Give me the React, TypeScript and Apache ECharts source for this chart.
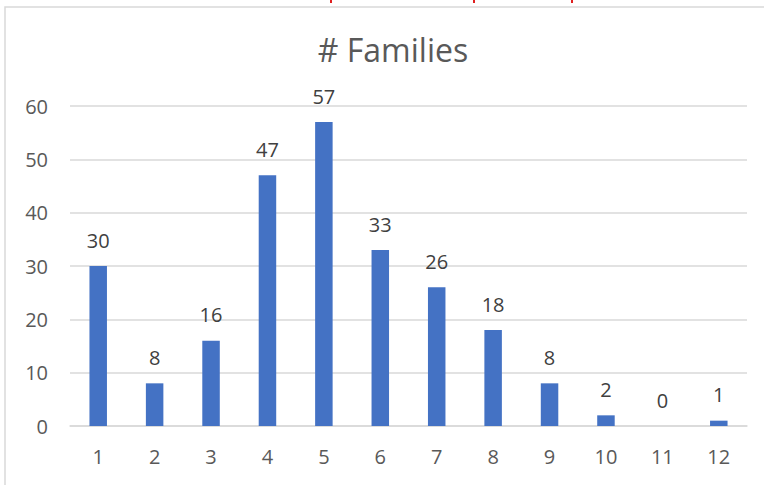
import React, { useEffect, useRef } from "react";
import * as echarts from "echarts";

const categories = ["1", "2", "3", "4", "5", "6", "7", "8", "9", "10", "11", "12"];
const families = [30, 8, 16, 47, 57, 33, 26, 18, 8, 2, 0, 1];
const yTicks = [0, 10, 20, 30, 40, 50, 60];
const titleText = "# Families";

export default function App() {
  const ref = useRef<HTMLDivElement>(null);
  useEffect(() => {
    document.body.style.margin = "0";
    const chart = echarts.init(ref.current!, null, { renderer: "svg" });
    const font = "'Open Sans', sans-serif";
    chart.setOption({
      animation: false,
      backgroundColor: "#ffffff",
      title: {
        text: titleText,
        left: 388,
        top: 28,
        textAlign: "center",
        textStyle: { fontFamily: font, fontSize: 32, fontWeight: "normal", color: "#595959" },
      },
      grid: { left: 70, right: 17, top: 106, bottom: 59 },
      xAxis: {
        type: "category",
        data: categories,
        axisLine: { lineStyle: { color: "#d9d9d9", width: 1.5 } },
        axisTick: { show: false },
        axisLabel: { fontFamily: font, fontSize: 20, color: "#595959", margin: 20 },
      },
      yAxis: {
        type: "value",
        min: yTicks[0],
        max: yTicks[yTicks.length - 1],
        interval: 10,
        axisLine: { show: false },
        axisTick: { show: false },
        splitLine: { lineStyle: { color: "#d9d9d9", width: 1.5 } },
        axisLabel: { fontFamily: font, fontSize: 20, color: "#595959", margin: 22 },
      },
      series: [
        {
          type: "bar",
          data: families,
          barWidth: 17.5,
          itemStyle: { color: "#4472C4" },
          label: {
            show: true,
            position: "top",
            distance: 16,
            fontFamily: font,
            fontSize: 20,
            color: "#404040",
          },
        },
      ],
      graphic: [
        {
          type: "rect",
          shape: { x: 5, y: 7, width: 800, height: 520 },
          style: { fill: "none", stroke: "#d9d9d9", lineWidth: 1.5 },
          silent: true,
        },
        { type: "rect", shape: { x: 330, y: 0, width: 2, height: 3 }, style: { fill: "#e02020" } },
        { type: "rect", shape: { x: 473, y: 0, width: 2, height: 3 }, style: { fill: "#e02020" } },
        { type: "rect", shape: { x: 571, y: 0, width: 2, height: 3 }, style: { fill: "#e02020" } },
      ],
    });
    return () => chart.dispose();
  }, []);
  return (
    <div
      ref={ref}
      style={{ position: "absolute", left: 0, top: 0, width: 764, height: 485 }}
    />
  );
}
